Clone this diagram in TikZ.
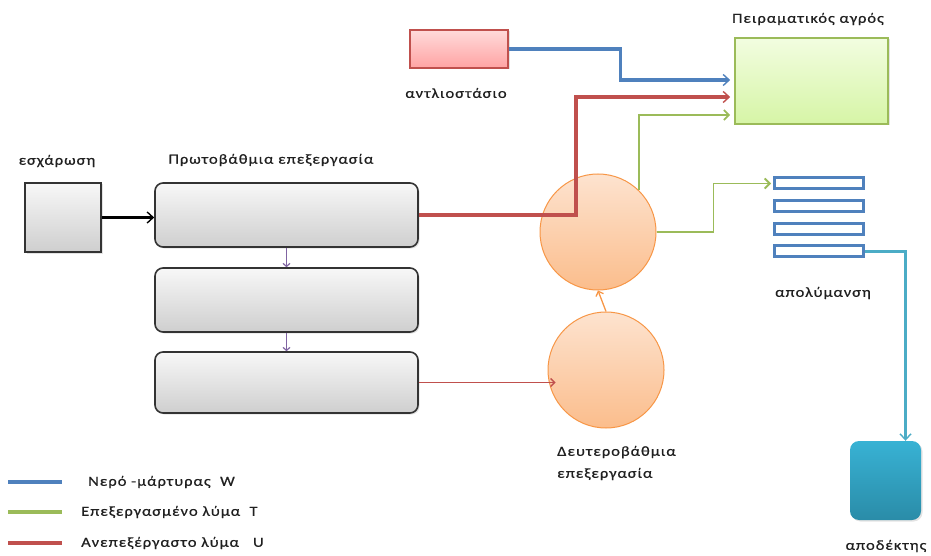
\documentclass[tikz,border=0pt]{standalone}
\usepackage{fontspec}
\setmainfont{Carlito}
\newfontfamily\lblfont{Carlito}[FakeStretch=1.18,LetterSpace=7,FakeBold=0.6]
\usetikzlibrary{arrows.meta,calc,shadows}
\definecolor{cblue}{HTML}{4F81BD}
\definecolor{cgreen}{HTML}{9BBB59}
\definecolor{cred}{HTML}{C0504D}
\definecolor{ccyan}{HTML}{4BACC6}
\definecolor{cpurple}{HTML}{8064A2}
\definecolor{corange}{HTML}{F79646}
\definecolor{recvtop}{HTML}{38B2D4}
\definecolor{recvbot}{HTML}{2A8CA8}
\definecolor{fieldtop}{HTML}{F2FDE0}
\definecolor{fieldbot}{HTML}{D6F5A6}
\definecolor{pumptop}{HTML}{FFDADA}
\definecolor{pumpbot}{HTML}{FFA3A3}
\definecolor{tanktop}{HTML}{FDE3CF}
\definecolor{tankbot}{HTML}{FBBD8C}
\definecolor{txt}{HTML}{202020}
\tikzset{
  shad/.style={drop shadow={opacity=0.22, shadow xshift=1.5pt, shadow yshift=-1.5pt}},
  greybox/.style={draw=black!80, line width=1.6pt, top color=gray!6, bottom color=gray!38, inner sep=0pt, shad},
  procbox/.style={greybox, rounded corners=8pt},
  pumpbox/.style={draw=cred, line width=1.4pt, top color=pumptop, bottom color=pumpbot, inner sep=0pt, shad},
  fieldbox/.style={draw=cgreen, line width=1.6pt, top color=fieldtop, bottom color=fieldbot, inner sep=0pt, shad},
  tank/.style={circle, draw=corange, line width=1pt, top color=tanktop, bottom color=tankbot, inner sep=0pt, minimum size=116pt},
  disbox/.style={draw=cblue, line width=3pt, fill=white, inner sep=0pt, minimum width=89pt, minimum height=11pt},
  recvbox/.style={rounded corners=9pt, top color=recvtop, bottom color=recvbot, inner sep=0pt, shad},
  lbl/.style={font=\lblfont\fontsize{14}{16}\selectfont, text=txt, inner sep=0pt},
  arr/.style={-{Straight Barb[length=6pt,width=11pt,line width=1.4pt]}},
  flowblue/.style={arr, draw=cblue, line width=3.4pt},
  flowred/.style={arr, draw=cred, line width=3.8pt},
  flowgreen/.style={-{Straight Barb[length=5pt,width=10pt]}, draw=cgreen, line width=1.8pt},
  thinred/.style={-{Straight Barb[length=4pt,width=8pt]}, draw=cred, line width=1.3pt},
  thinpurple/.style={-{Straight Barb[length=3pt,width=7pt]}, draw=cpurple, line width=1.2pt},
  flowcyan/.style={-{Straight Barb[length=6pt,width=11pt,line width=1.4pt]}, draw=ccyan, line width=3pt},
  flowblack/.style={arr, draw=black, line width=2.6pt},
  floworange/.style={-{Straight Barb[length=4pt,width=8pt]}, draw=corange, line width=1.3pt},
  legline/.style={line width=3.2pt},
}
\begin{document}
\begin{tikzpicture}[x=1pt,y=-1pt]
\useasboundingbox (0,0) rectangle (931,556);
% nodes
\node[greybox, minimum width=76pt, minimum height=69pt] (esch) at (63,217.5) {};
\node[procbox, minimum width=263pt, minimum height=64pt] (p1) at (286.5,215) {};
\node[procbox, minimum width=263pt, minimum height=64pt] (p2) at (286.5,300) {};
\node[procbox, minimum width=263pt, minimum height=61pt] (p3) at (286.5,382.5) {};
\node[pumpbox, minimum width=98pt, minimum height=38pt] (pump) at (459,49) {};
\node[fieldbox, minimum width=153pt, minimum height=86pt] (field) at (811.5,81) {};
\node[tank] (c1) at (598,232) {};
\node[tank] (c2) at (606,370) {};
\node[disbox] (d1) at (819,183.5) {};
\node[disbox] (d2) at (819,206) {};
\node[disbox] (d3) at (819,228.5) {};
\node[disbox] (d4) at (819,251) {};
\node[recvbox, minimum width=71pt, minimum height=79pt] (recv) at (885.5,480.5) {};
% labels
\node[lbl] (lesch) at (57,161) {εσχάρωση};
\node[lbl] (lprim) at (271,160) {Πρωτοβάθμια επεξεργασία};
\node[lbl] (lpump) at (456,93) {αντλιοστάσιο};
\node[lbl] (lfield) at (808,19) {Πειραματικός αγρός};
\node[lbl] (ldis) at (823,293) {απολύμανση};
\node[lbl, align=left, anchor=west, font=\lblfont\fontsize{14}{22}\selectfont] (lsec) at (557,463) {Δευτεροβάθμια\\επεξεργασία};
\node[lbl] (lrecv) at (886,546) {αποδέκτης};
% connectors
\draw[flowblack] (esch.east) -- (esch.east -| p1.west);
\draw[thinpurple] (p1.south) -- (p2.north);
\draw[thinpurple] (p2.south) -- (p3.north);
\draw[thinred] (p3.east) -- ($(p3.east -| c2.west)+(8,0)$);
\draw[floworange] (c2.north) -- (c1.south);
\draw[flowred] (p1.east) -- ($(p1.east)+(157,0)$) |- ($(field.west)+(-4,16)$);
\draw[flowblue] (pump.east) -- ($(pump.east)+(112,0)$) |- ($(field.west)+(-4,-1)$);
\draw[flowgreen] (c1.46) |- ($(field.west)+(-4,34)$);
\draw[flowgreen] (c1.east) -- ($(c1.east)+(57,0)$) |- ($(d1.west)+(-2,0)$);
\draw[flowcyan] (d4.east) -| ($(recv.north)+(20,0)$);
% legend
\coordinate (lb1) at (8,482); \coordinate (le1) at (62,482);
\coordinate (lb2) at (8,512); \coordinate (le2) at (62,512);
\coordinate (lb3) at (8,543); \coordinate (le3) at (62,543);
\draw[legline, cblue] (lb1) -- (le1);
\draw[legline, cgreen] (lb2) -- (le2);
\draw[legline, cred] (lb3) -- (le3);
\node[lbl, anchor=west] (t1) at (88,482) {Νερό -μάρτυρας\ \ W};
\node[lbl, anchor=west] (t2) at (81,512) {Επεξεργασμένο λύμα\ \ T};
\node[lbl, anchor=west] (t3) at (81,543) {Ανεπεξέργαστο λύμα\ \ \ U};
\end{tikzpicture}
\end{document}
